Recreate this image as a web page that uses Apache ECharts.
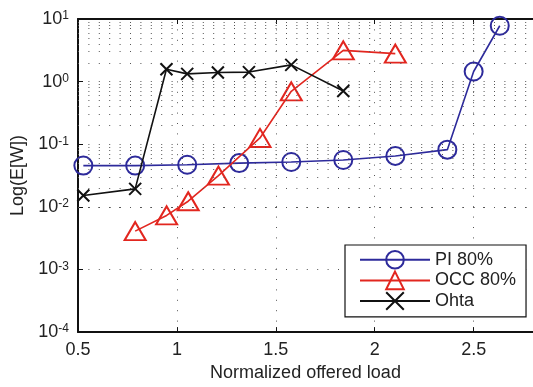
<!DOCTYPE html>
<html>
<head>
<meta charset="utf-8">
<script src="https://cdn.jsdelivr.net/npm/echarts@6/dist/echarts.min.js"></script>
<style>
  html, body { margin: 0; padding: 0; background: #fff; }
  #chart { width: 533px; height: 387px; }
</style>
</head>
<body>
<div id="chart"></div>
<script>
// ---- Data ----
const seriesNames = ['PI 80%', 'OCC 80%', 'Ohta'];

const piX  = [0.527, 0.789, 1.052, 1.315, 1.578, 1.841, 2.104, 2.367, 2.50, 2.632];
const piY  = [0.0456, 0.0456, 0.047, 0.050, 0.052, 0.056, 0.065, 0.082, 1.45, 7.8];

const occX = [0.789, 0.948, 1.057, 1.21, 1.42, 1.578, 1.841, 2.104];
const occY = [0.0041, 0.0073, 0.0123, 0.0316, 0.126, 0.70, 3.15, 2.8];

const ohtaX = [0.527, 0.789, 0.947, 1.052, 1.207, 1.364, 1.578, 1.841];
const ohtaY = [0.0152, 0.0194, 1.58, 1.33, 1.40, 1.42, 1.85, 0.71];

const xTicks = [0.5, 1, 1.5, 2, 2.5];
const yDecades = [1e-4, 1e-3, 1e-2, 1e-1, 1e0, 1e1];

// minor log grid values (2..9 within each decade)
const minorGridValues = [];
for (let d = 0; d < yDecades.length - 1; d++) {
  for (let m = 2; m <= 9; m++) minorGridValues.push(+(m * yDecades[d]).toPrecision(3));
}

const FONT = '"Liberation Sans", Arial, Helvetica, sans-serif';
const BLUE = '#2d2a9b';
const RED = '#e2261f';
const BLACK = '#111111';
const GRID_DOT = { color: '#555', width: 1, type: [1, 9.4] };

function pairs(xs, ys) { return xs.map((x, i) => [x, ys[i]]); }

const chart = echarts.init(document.getElementById('chart'), null, { renderer: 'canvas' });

const option = {
  animation: false,
  backgroundColor: '#fff',
  textStyle: { fontFamily: FONT },
  grid: { left: 78, top: 19, width: 460, height: 314, containLabel: false },
  legend: {
    orient: 'vertical',
    left: 345,
    top: 245,
    padding: [5, 10, 6, 14],
    itemWidth: 70,
    itemHeight: 22,
    itemGap: 1,
    backgroundColor: '#fff',
    borderColor: '#111',
    borderWidth: 1.2,
    textStyle: { fontSize: 18, color: '#222', fontFamily: FONT },
    data: seriesNames
  },
  xAxis: [{
    type: 'value',
    min: 0.5,
    max: 2.8,
    interval: 0.5,
    name: 'Normalized offered load',
    nameLocation: 'middle',
    nameGap: 31,
    nameTextStyle: { fontSize: 18, color: '#222', fontFamily: FONT },
    axisLine: { show: true, onZero: false, lineStyle: { color: BLACK, width: 2 } },
    axisTick: { show: true, inside: true, length: 5, lineStyle: { color: BLACK, width: 1 } },
    axisLabel: {
      fontSize: 18, color: '#222', margin: 9, fontFamily: FONT,
      showMaxLabel: false,
      formatter: v => (xTicks.indexOf(+v.toFixed(2)) >= 0 ? String(+v.toFixed(2)) : '')
    },
    splitLine: { show: true, lineStyle: GRID_DOT }
  }, {
    type: 'value',
    position: 'top',
    min: 0.5,
    max: 2.8,
    interval: 0.5,
    axisLine: { show: true, onZero: false, lineStyle: { color: BLACK, width: 2 } },
    axisTick: { show: true, inside: true, length: 5, lineStyle: { color: BLACK, width: 1 } },
    axisLabel: { show: false },
    splitLine: { show: false }
  }],
  yAxis: {
    type: 'log',
    logBase: 10,
    min: 1e-4,
    max: 10,
    name: 'Log(E[W])',
    nameLocation: 'middle',
    nameGap: 49,
    nameTextStyle: { fontSize: 18, color: '#222', fontFamily: FONT },
    axisLine: { show: true, onZero: false, lineStyle: { color: BLACK, width: 2 } },
    axisTick: { show: true, inside: true, length: 5, lineStyle: { color: BLACK, width: 1 } },
    axisLabel: {
      margin: 9,
      color: '#222',
      fontFamily: FONT,
      formatter: function (v) {
        const e = Math.round(Math.log10(v));
        return '{b|10}{s|' + e + '}';
      },
      rich: {
        b: { fontSize: 18, lineHeight: 18, padding: [7, 0, 7, 0], verticalAlign: 'middle', fontFamily: FONT, color: '#222' },
        s: { fontSize: 12, lineHeight: 12, verticalAlign: 'top', fontFamily: FONT, color: '#222' }
      }
    },
    splitLine: { show: true, lineStyle: GRID_DOT }
  },
  series: [
    {
      name: seriesNames[0],
      type: 'line',
      data: pairs(piX, piY),
      symbol: 'circle',
      symbolSize: 18,
      lineStyle: { color: BLUE, width: 1.6 },
      itemStyle: { color: 'rgba(0,0,0,0)', borderColor: BLUE, borderWidth: 2 },
      z: 3,
      markLine: {
        silent: true,
        symbol: ['none', 'none'],
        label: { show: false },
        lineStyle: GRID_DOT,
        emphasis: { disabled: true },
        data: minorGridValues.map(v => ({ yAxis: v }))
      }
    },
    {
      name: seriesNames[1],
      type: 'line',
      data: pairs(occX, occY),
      symbol: 'triangle',
      symbolSize: [21, 18],
      lineStyle: { color: RED, width: 1.6 },
      itemStyle: { color: 'rgba(0,0,0,0)', borderColor: RED, borderWidth: 2 },
      z: 4
    },
    {
      name: seriesNames[2],
      type: 'line',
      data: pairs(ohtaX, ohtaY),
      symbol: 'path://M0,0L10,10M10,0L0,10',
      symbolSize: 12,
      lineStyle: { color: BLACK, width: 1.6 },
      itemStyle: { color: 'rgba(0,0,0,0)', borderColor: BLACK, borderWidth: 2 },
      z: 5
    }
  ]
};

chart.setOption(option);
</script>
</body>
</html>
